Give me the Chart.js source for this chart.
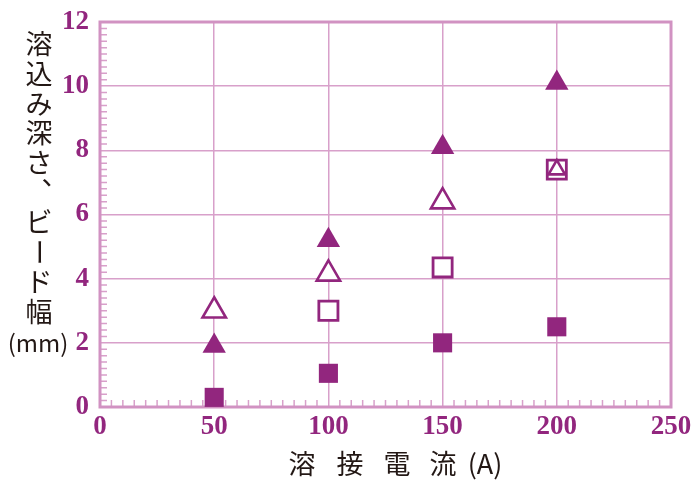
<!DOCTYPE html>
<html>
<head>
<meta charset="utf-8">
<script src="https://cdn.jsdelivr.net/npm/chart.js@4/dist/chart.umd.min.js"></script>
<style>
  html, body { margin: 0; padding: 0; background: #fff; }
  #wrap { width: 693px; height: 483px; }
</style>
</head>
<body>
<div id="wrap"><canvas id="c" width="693" height="483"></canvas></div>
<script>
// 溶接電流 (A)
const currents = [50, 100, 150, 200];
// 溶込み深さ・ビード幅 (mm)
const filledTriangle = [1.9, 5.2, 8.1, 10.1];
const openTriangle = [3.0, 4.15, 6.4, 7.4];
const openSquare = [null, 3.0, 4.35, 7.4];
const filledSquare = [0.3, 1.05, 2.0, 2.5];

const xTitleParts = ['溶', '接', '電', '流', '(A)'];
const yTitleChars = ['溶', '込', 'み', '深', 'さ', '、', 'ビ', 'ー', 'ド', '幅'];
const yTitleUnit = '(mm)';

const purple = '#92267e';
const gridPink = '#d8a0ca';
const framePink = '#d192c2';

const pts = (ys) => currents.map((x, i) => ({ x: x, y: ys[i] })).filter(p => p.y !== null);

// 枠・補助目盛り・軸タイトル
const decor = {
    id: 'decor',
    beforeDatasetsDraw(chart) {
        const { ctx, chartArea: a, scales: { x, y } } = chart;
        ctx.save();
        ctx.strokeStyle = gridPink;
        ctx.lineWidth = 1.5;
        ctx.beginPath();
        for (let v = 5; v < 250; v += 5) {
            if (v % 50 === 0) continue;
            const px = x.getPixelForValue(v);
            ctx.moveTo(px, a.bottom);
            ctx.lineTo(px, a.bottom - 7);
        }
        for (let k = 1; k < 60; k++) {
            if (k % 10 === 0) continue;
            const py = y.getPixelForValue(k * 0.2);
            ctx.moveTo(a.left, py);
            ctx.lineTo(a.left + 7, py);
        }
        ctx.stroke();
        ctx.strokeStyle = framePink;
        ctx.lineWidth = 3;
        ctx.strokeRect(a.left, a.top, a.right - a.left, a.bottom - a.top);
        ctx.restore();
    },
    afterDraw(chart) {
        const { ctx } = chart;
        ctx.save();
        ctx.fillStyle = '#231815';
        ctx.textAlign = 'center';
        ctx.textBaseline = 'middle';
        ctx.font = '27px "Noto Sans CJK JP"';
        const xs = [302, 350, 397, 443, 485];
        xTitleParts.forEach((t, i) => ctx.fillText(t, xs[i], 464));
        yTitleChars.forEach((ch, i) => {
            const cy = 44 + i * 29.7;
            if (ch === 'ー') {
                ctx.save();
                ctx.translate(39, cy);
                ctx.rotate(Math.PI / 2);
                ctx.fillText(ch, 0, 0);
                ctx.restore();
            } else if (ch === '、') {
                ctx.fillText(ch, 39 + 16, cy - 18);
            } else {
                ctx.fillText(ch, 39, cy);
            }
        });
        ctx.font = '24px "Noto Sans CJK JP"';
        ctx.fillText(yTitleUnit, 38, 343);
        ctx.restore();
    }
};

const tickFont = { family: '"Liberation Serif", serif', size: 27, weight: 'bold' };

new Chart(document.getElementById('c'), {
    type: 'scatter',
    data: {
        datasets: [
            {
                label: 'filled triangle',
                data: pts(filledTriangle),
                pointStyle: 'triangle',
                pointRadius: 13.5,
                pointBackgroundColor: purple,
                pointBorderColor: purple,
                pointBorderWidth: 0
            },
            {
                label: 'open triangle',
                data: pts(openTriangle),
                pointStyle: 'triangle',
                pointRadius: [13.5, 13.5, 13.5, 9.5],
                pointBackgroundColor: '#fff',
                pointBorderColor: purple,
                pointBorderWidth: 2.6
            },
            {
                label: 'open square',
                data: pts(openSquare),
                pointStyle: 'rect',
                pointRadius: 13.5,
                pointBackgroundColor: '#fff',
                pointBorderColor: purple,
                pointBorderWidth: 2.8
            },
            {
                label: 'filled square',
                data: pts(filledSquare),
                pointStyle: 'rect',
                pointRadius: 13.5,
                pointBackgroundColor: purple,
                pointBorderColor: purple,
                pointBorderWidth: 0
            }
        ]
    },
    options: {
        responsive: false,
        animation: false,
        layout: { padding: { left: 0, top: 22, right: 22, bottom: 0 } },
        plugins: { legend: { display: false }, tooltip: { enabled: false } },
        scales: {
            x: {
                type: 'linear',
                min: 0,
                max: 250,
                afterFit: (s) => { s.height = 76; s.paddingLeft = 0; s.paddingRight = 0; },
                ticks: { stepSize: 50, color: purple, font: tickFont, padding: 4, maxRotation: 0 },
                grid: { color: gridPink, lineWidth: 1.5, drawTicks: false },
                border: { display: false }
            },
            y: {
                min: 0,
                max: 12,
                afterFit: (s) => { s.width = 100; s.paddingTop = 0; s.paddingBottom = 0; },
                ticks: { stepSize: 2, color: purple, font: tickFont, padding: 11 },
                grid: { color: gridPink, lineWidth: 1.5, drawTicks: false },
                border: { display: false }
            }
        }
    },
    plugins: [decor]
});
</script>
</body>
</html>
